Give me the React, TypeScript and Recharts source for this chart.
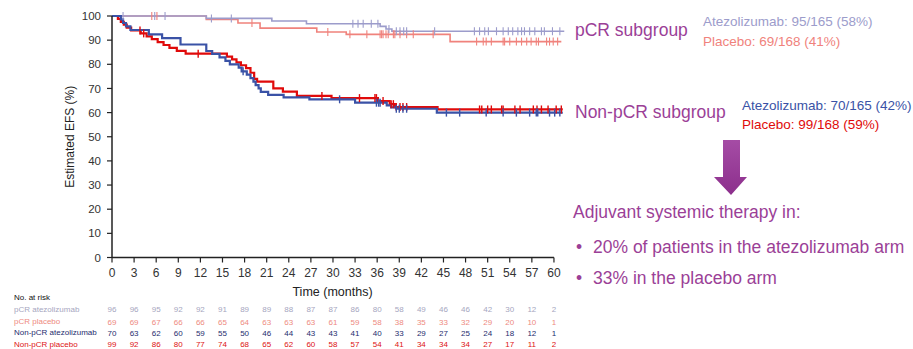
import React from 'react';
import { ComposedChart, Line, Scatter, XAxis, YAxis, ReferenceLine } from 'recharts';

const MONTH_TICKS = [0, 3, 6, 9, 12, 15, 18, 21, 24, 27, 30, 33, 36, 39, 42, 45, 48, 51, 54, 57, 60];
const EFS_TICKS = [0, 10, 20, 30, 40, 50, 60, 70, 80, 90, 100];

// Kaplan-Meier steps as [month, EFS %]
const PCR_ATEZO_STEPS: [number, number][] = [
  [0, 100], [12.8, 99.0], [21.7, 97.9], [26.4, 96.8], [36.4, 95.7], [37.2, 94.6], [38.0, 93.7], [61.4, 93.7],
];
const PCR_PLACEBO_STEPS: [number, number][] = [
  [0, 100], [12.8, 98.6], [17.1, 97.1], [20.1, 95.0], [27.8, 93.4], [31.8, 92.4], [45.9, 89.4], [61.0, 89.4],
];
const NONPCR_ATEZO_STEPS: [number, number][] = [
  [0, 100], [1.2, 98.6], [1.5, 97.1], [1.9, 95.7], [2.5, 94.2], [5.0, 92.4], [6.8, 90.8], [9.3, 88.2],
  [12.8, 85.5], [13.6, 84.3], [14.6, 82.9], [15.4, 81.4], [16.0, 80.0], [17.2, 78.6], [17.6, 77.1],
  [18.3, 75.7], [18.8, 74.3], [19.2, 72.8], [19.5, 71.4], [19.9, 70.0], [20.2, 68.6], [21.2, 67.3],
  [23.3, 66.3], [26.8, 65.5], [33.0, 64.1], [37.3, 63.0], [37.9, 62.2], [38.6, 61.6], [44.1, 60.0], [61.2, 60.0],
];
const NONPCR_PLACEBO_STEPS: [number, number][] = [
  [0, 100], [0.8, 98.8], [1.2, 97.6], [1.6, 96.4], [2.0, 95.2], [2.6, 94.0], [3.9, 92.8], [4.7, 91.6],
  [5.4, 90.4], [6.2, 89.2], [7.0, 88.0], [7.8, 86.8], [8.8, 85.6], [10.0, 84.4], [15.6, 83.2], [16.3, 82.0],
  [16.9, 80.8], [17.5, 79.6], [18.2, 78.4], [18.8, 76.5], [19.3, 74.0], [19.7, 72.8], [21.9, 70.0],
  [23.2, 68.7], [25.1, 66.9], [29.8, 66.0], [36.1, 64.8], [37.7, 63.5], [38.4, 62.3], [44.2, 61.3], [61.2, 61.3],
];

// censoring times (months)
const PCR_ATEZO_CENSORED = [
  1.5, 5.8, 7.2, 13.5, 16.2, 32.7, 33.4, 34.1, 35.2, 36.1, 37.6, 38.6, 39.1, 39.6, 40.0, 43.8, 49.2, 49.9,
  50.6, 51.1, 52.2, 53.1, 53.8, 54.4, 55.1, 55.6, 56.0, 56.7, 57.4, 58.3, 58.7, 59.8, 60.8,
];
const PCR_PLACEBO_CENSORED = [
  5.4, 6.1, 19.0, 29.3, 32.3, 34.6, 36.4, 36.6, 36.8, 37.2, 37.5, 38.2, 38.4, 39.1, 40.0, 40.9, 43.6, 49.5,
  50.4, 50.8, 51.5, 53.1, 53.3, 54.0, 54.9, 55.6, 56.3, 56.9, 57.6, 57.9, 59.0, 59.4, 59.9, 60.5,
];
const NONPCR_ATEZO_CENSORED = [
  17.8, 30.9, 35.9, 36.2, 36.4, 38.6, 39.0, 39.5, 40.0, 45.4, 47.2, 50.8, 53.1, 54.9, 56.7, 57.6, 57.8,
  59.4, 60.1, 60.8,
];
const NONPCR_PLACEBO_CENSORED = [
  3.8, 4.3, 11.7, 28.5, 33.6, 35.7, 35.9, 36.8, 37.9, 38.2, 38.6, 39.1, 39.5, 40.0, 49.9, 50.2, 51.0, 51.5,
  52.9, 53.1, 54.7, 55.4, 57.2, 57.7, 58.3, 59.2, 60.3, 61.0,
];

// number at risk at each tick month
const PCR_ATEZO_AT_RISK = [96, 96, 95, 92, 92, 91, 89, 89, 88, 87, 87, 86, 80, 58, 49, 46, 46, 42, 30, 12, 2];
const PCR_PLACEBO_AT_RISK = [69, 69, 67, 66, 66, 65, 64, 63, 63, 63, 61, 59, 58, 38, 35, 33, 32, 29, 20, 10, 1];
const NONPCR_ATEZO_AT_RISK = [70, 63, 62, 60, 59, 55, 50, 46, 44, 43, 43, 41, 40, 33, 29, 27, 25, 24, 18, 12, 1];
const NONPCR_PLACEBO_AT_RISK = [99, 92, 86, 80, 77, 74, 68, 65, 62, 60, 58, 57, 54, 41, 34, 34, 34, 27, 17, 11, 2];

const C_PCR_ATEZO = '#9c9ccb';
const C_PCR_PLACEBO = '#f0827c';
const C_NONPCR_ATEZO = '#3a52a6';
const C_NONPCR_PLACEBO = '#e00a0a';
const PURPLE = '#9b3f97';
const FONT = '"Liberation Sans", Arial, sans-serif';

const efsAt = (steps: [number, number][], t: number) => {
  let s = steps[0][1];
  for (const [m, v] of steps) if (m <= t) s = v;
  return s;
};

const toPoints = (steps: [number, number][]) => steps.map(([t, s]) => ({ t, s }));
const censorPoints = (steps: [number, number][], times: number[]) => times.map(t => ({ t, s: efsAt(steps, t) }));

const censorTick = (color: string, w: number) => (props: any) => {
  const { cx, cy } = props;
  if (cx == null || cy == null) return <g />;
  return <line x1={cx} x2={cx} y1={cy - 4} y2={cy + 4} stroke={color} strokeWidth={w} />;
};

const RISK_ROWS = [
  { id: 'r1', label: 'pCR atezolizumab', counts: PCR_ATEZO_AT_RISK, color: '#a6a6c0', h: 12.5, y: 305.5 },
  { id: 'r2', label: 'pCR placebo', counts: PCR_PLACEBO_AT_RISK, color: '#ee8a80', h: 11, y: 318 },
  { id: 'r3', label: 'Non-pCR atezolizumab', counts: NONPCR_ATEZO_AT_RISK, color: '#1e2c6e', h: 11.5, y: 329 },
  { id: 'r4', label: 'Non-pCR placebo', counts: NONPCR_PLACEBO_AT_RISK, color: '#dd1111', h: 9, y: 340.5 },
];

const Text = ({ x, y, size, color, children }: any) => (
  <div style={{
    position: 'absolute', left: x, top: y, fontSize: size, lineHeight: 1, color,
    fontFamily: FONT, whiteSpace: 'nowrap',
  }}>{children}</div>
);

const App: React.FC = () => {
  const series = [
    { steps: PCR_PLACEBO_STEPS, cens: PCR_PLACEBO_CENSORED, color: C_PCR_PLACEBO, w: 1.6 },
    { steps: PCR_ATEZO_STEPS, cens: PCR_ATEZO_CENSORED, color: C_PCR_ATEZO, w: 1.6 },
    { steps: NONPCR_PLACEBO_STEPS, cens: NONPCR_PLACEBO_CENSORED, color: C_NONPCR_PLACEBO, w: 2.2 },
    { steps: NONPCR_ATEZO_STEPS, cens: NONPCR_ATEZO_CENSORED, color: C_NONPCR_ATEZO, w: 2.2 },
  ];

  return (
    <div style={{ position: 'absolute', left: 0, top: 0, width: 913, height: 349, background: '#fff', overflow: 'hidden' }}>
      <ComposedChart width={913} height={349} margin={{ top: 16, right: 348, bottom: 3.5, left: 0 }}>
        <XAxis
          dataKey="t"
          type="number"
          domain={[0, 61.5]}
          ticks={MONTH_TICKS}
          interval={0}
          height={44}
          axisLine={false}
          tickLine={{ stroke: '#222', strokeWidth: 1.2 }}
          tickSize={5}
          tickMargin={6}
          tick={{ fill: '#333', fontSize: 12, fontFamily: FONT }}
          label={{ value: 'Time (months)', position: 'insideBottom', offset: 5.5, dx: -6, fill: '#222', fontSize: 12.5, fontFamily: FONT }}
        />
        {/* one axis per number-at-risk row, stacked under the time axis */}
        {RISK_ROWS.map(r => (
          <XAxis
            key={r.id}
            xAxisId={r.id}
            dataKey="t"
            type="number"
            domain={[0, 61.5]}
            ticks={MONTH_TICKS}
            interval={0}
            height={r.h}
            axisLine={false}
            tickLine={false}
            tickSize={0}
            tickMargin={5}
            tick={{ fill: r.color, fontSize: 8, fontFamily: FONT }}
            tickFormatter={(v: number) => String(r.counts[MONTH_TICKS.indexOf(v)])}
          />
        ))}
        <YAxis
          dataKey="s"
          type="number"
          domain={[0, 100]}
          ticks={EFS_TICKS}
          interval={0}
          width={112}
          axisLine={{ stroke: '#222', strokeWidth: 1.5 }}
          tickLine={{ stroke: '#222', strokeWidth: 1.2 }}
          tickSize={5}
          tickMargin={6}
          tick={{ fill: '#333', fontSize: 11.5, fontFamily: FONT }}
          label={{
            content: ({ viewBox }: any) => {
              const cy = viewBox.y + viewBox.height / 2;
              return (
                <text x={74} y={cy} transform={`rotate(-90 74 ${cy})`} textAnchor="middle"
                  fill="#222" fontSize={12} fontFamily={FONT}>Estimated EFS (%)</text>
              );
            },
          }}
        />
        <ReferenceLine
          segment={[{ x: 0, y: 0 }, { x: 60, y: 0 }]}
          stroke="#222"
          strokeWidth={1.5}
          ifOverflow="visible"
        />
        {series.map((s, i) => (
          <Line
            key={`l${i}`}
            data={toPoints(s.steps)}
            dataKey="s"
            type="stepAfter"
            stroke={s.color}
            strokeWidth={s.w}
            dot={false}
            activeDot={false}
            isAnimationActive={false}
          />
        ))}
        {series.map((s, i) => (
          <Scatter
            key={`c${i}`}
            data={censorPoints(s.steps, s.cens)}
            dataKey="s"
            shape={censorTick(s.color, s.w > 2 ? 1.4 : 1.1)}
            isAnimationActive={false}
          />
        ))}
        {/* invisible series so each at-risk axis is registered and drawn */}
        {RISK_ROWS.map(r => (
          <Scatter
            key={`h${r.id}`}
            xAxisId={r.id}
            data={MONTH_TICKS.map((t, i) => ({ t, s: 0, n: r.counts[i] }))}
            dataKey="s"
            shape={() => <g />}
            isAnimationActive={false}
          />
        ))}
      </ComposedChart>

      {/* number-at-risk row labels */}
      <Text x={14} y={294} size={8} color="#111">No. at risk</Text>
      {RISK_ROWS.map(r => (
        <Text key={r.label} x={14} y={r.y} size={8} color={r.color}>{r.label}</Text>
      ))}

      {/* subgroup annotations */}
      <Text x={575} y={22} size={17.5} color={PURPLE}>pCR subgroup</Text>
      <Text x={703} y={15} size={13.5} color={C_PCR_ATEZO}>Atezolizumab: 95/165 (58%)</Text>
      <Text x={703} y={35} size={13.5} color={C_PCR_PLACEBO}>Placebo: 69/168 (41%)</Text>
      <Text x={575} y={104} size={17.5} color={PURPLE}>Non-pCR subgroup</Text>
      <Text x={742} y={98.5} size={13.5} color={C_NONPCR_ATEZO}>Atezolizumab: 70/165 (42%)</Text>
      <Text x={742} y={118} size={13.5} color={C_NONPCR_PLACEBO}>Placebo: 99/168 (59%)</Text>

      <svg style={{ position: 'absolute', left: 0, top: 0 }} width={913} height={349}>
        <defs>
          <linearGradient id="arrowFill" x1="0" y1="0" x2="0" y2="1">
            <stop offset="0%" stopColor="#a54ca5" />
            <stop offset="100%" stopColor="#8c2f8c" />
          </linearGradient>
        </defs>
        <path d="M723 140 H740 V177 H747 L731 195 L714 177 H723 Z" fill="url(#arrowFill)" />
      </svg>

      <Text x={573} y={204} size={17.5} color={PURPLE}>Adjuvant systemic therapy in:</Text>
      <Text x={576} y={239} size={17.5} color={PURPLE}>•</Text>
      <Text x={593} y={239} size={17.5} color={PURPLE}>20% of patients in the atezolizumab arm</Text>
      <Text x={576} y={269.5} size={17.5} color={PURPLE}>•</Text>
      <Text x={593} y={269.5} size={17.5} color={PURPLE}>33% in the placebo arm</Text>
    </div>
  );
};

export default App;
